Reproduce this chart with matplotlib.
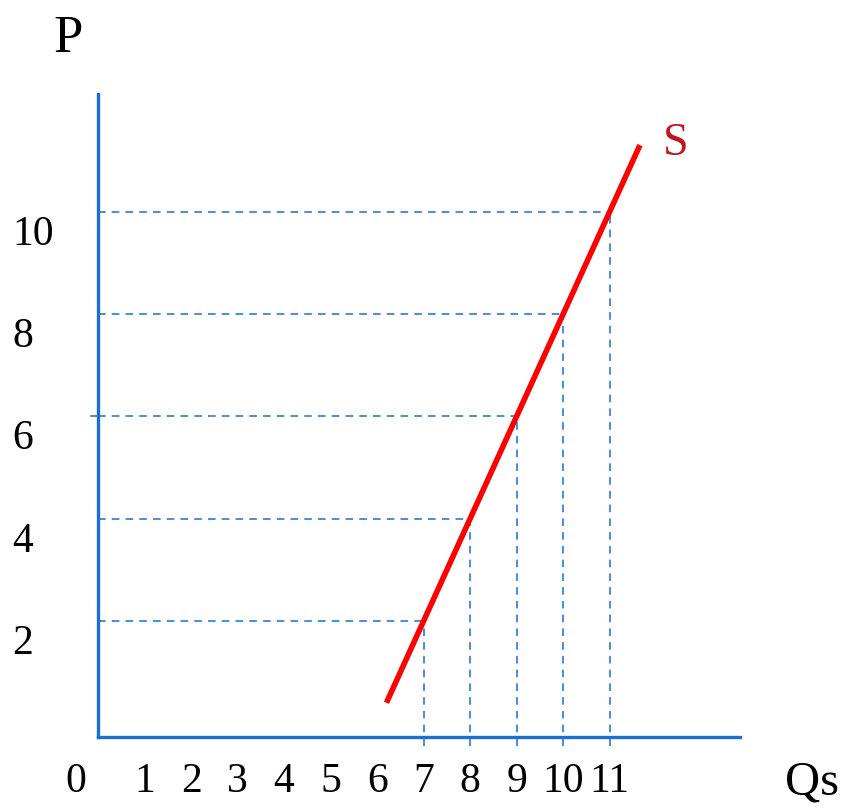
## Bibliotheques
import numpy as np
import matplotlib.pyplot as plt
import matplotlib.transforms as mtransforms

## Donnees
qs_ticks = [0, 1, 2, 3, 4, 5, 6, 7, 8, 9, 10, 11]
p_ticks = [2, 4, 6, 8, 10]
q_points = [7, 8, 9, 10, 11]
p_points = [2, 4, 6, 8, 10]
s_q = [6.2, 11.65]
s_p = [0.4, 11.3]

blue = "#1a6fd4"
red = "#ff0000"

plt.rcParams['font.family'] = ['Liberation Serif', 'DejaVu Serif']

fig = plt.figure(figsize=(8.48, 8.12), dpi=100)
ax = fig.add_axes([0.1156, 0.0911, 0.757, 0.792])
ax.set_xlim(0, 13.8)
ax.set_ylim(-0.27, 12.3)

for s in ["top", "right"]:
    ax.spines[s].set_visible(False)
for s in ["left", "bottom"]:
    ax.spines[s].set_color(blue)
    ax.spines[s].set_linewidth(2.4)

# lignes pointillees
for q, p in zip(q_points, p_points):
    ax.plot([0, q], [p, p], color=blue, lw=1.1, dashes=(5, 4), clip_on=False)
    ax.plot([q, q], [-0.45, p], color=blue, lw=1.1, dashes=(5, 4), clip_on=False)

# courbe d'offre
ax.plot(s_q, s_p, color=red, lw=4, solid_capstyle="butt")
ax.text(676 / 848, 1 - 155 / 812, "S", color="#c0161c", fontsize=33,
        ha="center", va="baseline", transform=fig.transFigure)

ax.set_xticks([])
ax.set_yticks([])

# etiquettes
tx = mtransforms.blended_transform_factory(ax.transData, fig.transFigure)
for q in qs_ticks:
    xpos = q if q > 0 else -0.47
    ax.text(xpos, 1 - 792 / 812, str(q), fontsize=30, ha="center",
            va="baseline", transform=tx)
ty = mtransforms.offset_copy(
    mtransforms.blended_transform_factory(fig.transFigure, ax.transData),
    fig, x=0, y=-32, units="dots")
for p in p_ticks:
    ax.text(12 / 848, p, str(p), fontsize=30, ha="left", va="baseline",
            transform=ty)
ax.plot([-0.15, 0], [6, 6], color=blue, lw=1.1, clip_on=False)

fig.text(68 / 848, 1 - 52 / 812, "P", fontsize=38, ha="center", va="baseline")
fig.text(812 / 848, 1 - 795 / 812, "Qs", fontsize=35, ha="center", va="baseline")

plt.savefig("out.png", dpi=100)
